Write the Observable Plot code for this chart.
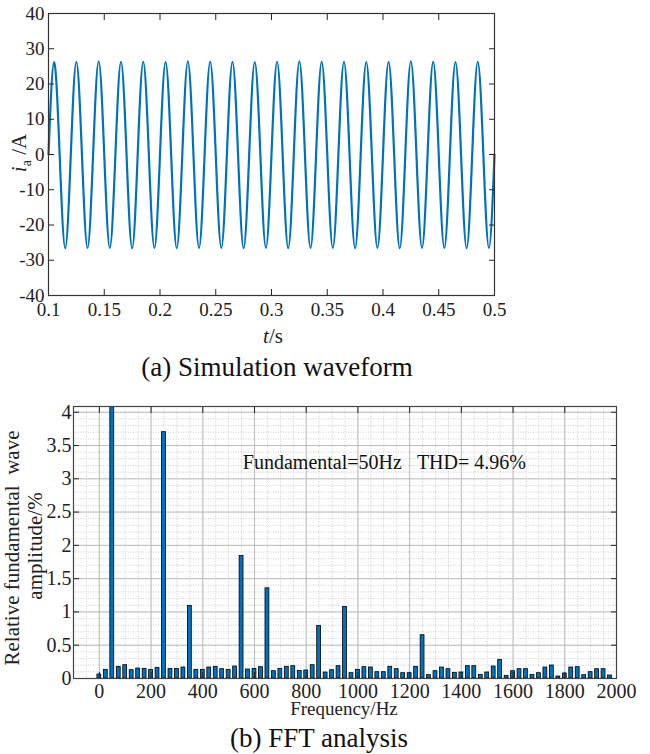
<!DOCTYPE html>
<html><head><meta charset="utf-8">
<script src="https://cdn.jsdelivr.net/npm/d3@7"></script>
<script src="https://cdn.jsdelivr.net/npm/@observablehq/plot@0.6"></script>
<style>
body{margin:0;background:#fff;font-family:"Liberation Serif","Times New Roman",serif;}
#wrap{position:relative;width:650px;height:754px;overflow:hidden;background:#fff;}
.plot{position:absolute;left:0;}
.plot text{font-family:"Liberation Serif","Times New Roman",serif;}
.cap{position:absolute;font-size:27px;white-space:nowrap;transform:translate(-50%,-50%);color:#111;}
</style></head><body><div id="wrap"></div>
<script>
// ---- (a) Simulation waveform ----
const waveStart = 0.1;          // s
const waveStep = 0.005;         // s between samples (quarter period)
const waveValues = [
  0, 26.2, 0, -26.6,  0, 26.3, 0, -26.5,  0, 26.4, 0, -26.5,  0, 26.3, 0, -26.6,
  0, 26.3, 0, -26.5,  0, 26.2, 0, -26.6,  0, 26.4, 0, -26.5,  0, 26.3, 0, -26.5,
  0, 26.3, 0, -26.6,  0, 26.2, 0, -26.5,  0, 26.3, 0, -26.6,  0, 26.4, 0, -26.5,
  0, 26.3, 0, -26.5,  0, 26.3, 0, -26.6,  0, 26.2, 0, -26.5,  0, 26.3, 0, -26.6,
  0, 26.4, 0, -26.5,  0, 26.3, 0, -26.5,  0, 26.2, 0, -26.6,  0, 26.3, 0, -26.5,
  0
];
const timeTicks = [0.1, 0.15, 0.2, 0.25, 0.3, 0.35, 0.4, 0.45, 0.5];
const currentTicks = [-40, -30, -20, -10, 0, 10, 20, 30, 40];
const captionA = "(a) Simulation waveform";

// ---- (b) FFT analysis ----
const fftStep = 25; // Hz between bars
const fftAmps = [
  0.06, 0.13, 100, 0.175, 0.2, 0.125, 0.15, 0.145, 0.13, 0.16,
  3.7, 0.145, 0.145, 0.165, 1.09, 0.13, 0.13, 0.165, 0.175, 0.14,
  0.13, 0.18, 1.84, 0.135, 0.145, 0.17, 1.355, 0.11, 0.145, 0.175,
  0.185, 0.115, 0.12, 0.2, 0.79, 0.09, 0.125, 0.185, 1.075, 0.08,
  0.13, 0.17, 0.165, 0.095, 0.095, 0.175, 0.14, 0.08, 0.08, 0.175,
  0.65, 0.05, 0.11, 0.165, 0.14, 0.085, 0.09, 0.185, 0.185, 0.055,
  0.09, 0.18, 0.28, 0.04, 0.11, 0.14, 0.14, 0.055, 0.08, 0.165,
  0.195, 0.03, 0.075, 0.165, 0.17, 0.05, 0.095, 0.14, 0.14, 0.045
];
const freqTicks = [0, 200, 400, 600, 800, 1000, 1200, 1400, 1600, 1800, 2000];
const ampTicks = [0, 0.5, 1, 1.5, 2, 2.5, 3, 3.5, 4];
const annotationText = "Fundamental=50Hz\u00a0\u00a0\u00a0THD=\u00a04.96%";
const annotationAt = {f: 555, a: 3.25};
const captionB = "(b) FFT analysis";

const FONT = "'Liberation Serif', 'Times New Roman', serif";
const INK = "#222";
const wrap = document.getElementById("wrap");

// ---------- top chart ----------
const wave = waveValues.map((v, i) => ({t: waveStart + i * waveStep, v}));
const topPlot = Plot.plot({
  width: 650, height: 350,
  marginTop: 13, marginBottom: 55, marginLeft: 48, marginRight: 156,
  style: `font-family: ${FONT}; font-size: 18px; color: ${INK}; background: transparent; overflow: visible;`,
  x: {domain: [0.1, 0.5]},
  y: {domain: [-40, 40]},
  marks: [
    Plot.line(wave, {x: "t", y: "v", stroke: "#0072BD", strokeWidth: 2.2, curve: "natural"}),
    Plot.axisX({ticks: timeTicks, anchor: "bottom", tickSize: -6, tickPadding: 13, tickFormat: d => String(d), label: null, fontSize: 19}),
    Plot.axisX({ticks: timeTicks, anchor: "top", tickSize: -6, tickFormat: () => "", label: null}),
    Plot.axisY({ticks: currentTicks, anchor: "left", tickSize: -6, tickPadding: 10, tickFormat: d => String(d), label: null, fontSize: 19}),
    Plot.axisY({ticks: currentTicks, anchor: "right", tickSize: -6, tickFormat: () => "", label: null}),
    Plot.frame({stroke: "#333", strokeWidth: 1.2})
  ]
});
topPlot.classList.add("plot");
topPlot.style.top = "0px";
wrap.appendChild(topPlot);
{
  const s = d3.select(topPlot);
  const yl = s.append("text").attr("transform", "translate(26,153) rotate(-90)")
    .attr("text-anchor", "middle").attr("fill", INK).style("font-size", "21px");
  yl.append("tspan").style("font-style", "italic").text("i");
  yl.append("tspan").attr("dy", 5).style("font-size", "14px").text("a");
  yl.append("tspan").attr("dy", -5).text(" /A");
  const xl = s.append("text").attr("x", 273).attr("y", 343)
    .attr("text-anchor", "middle").attr("fill", INK).style("font-size", "21px");
  xl.append("tspan").style("font-style", "italic").text("t");
  xl.append("tspan").text("/s");
}
const capA = document.createElement("div");
capA.className = "cap"; capA.textContent = captionA;
capA.style.left = "277px"; capA.style.top = "367px";
wrap.appendChild(capA);

// ---------- bottom chart ----------
const fft = fftAmps.map((a, i) => ({f: i * fftStep, a}));
const halfW = fftStep * 0.3;
const minorX = d3.range(-100, 2001, 50);
const minorY = d3.range(0, 41, 1).map(d => d / 10);
const bottomPlot = Plot.plot({
  width: 650, height: 330,
  marginTop: 16, marginBottom: 42, marginLeft: 73, marginRight: 34,
  style: `font-family: ${FONT}; font-size: 20px; color: ${INK}; background: transparent; overflow: visible;`,
  x: {domain: [-100, 2000]},
  y: {domain: [0, 4.086]},
  marks: [
    Plot.gridX(minorX, {stroke: "#b8b8b8", strokeOpacity: 1, strokeWidth: 0.7, strokeDasharray: "1,1.5"}),
    Plot.gridY(minorY, {stroke: "#b8b8b8", strokeOpacity: 1, strokeWidth: 0.7, strokeDasharray: "1,1.5"}),
    Plot.gridX(freqTicks, {stroke: "#bdbdbd", strokeOpacity: 1, strokeWidth: 1}),
    Plot.gridY(ampTicks, {stroke: "#bdbdbd", strokeOpacity: 1, strokeWidth: 1}),
    Plot.rect(fft, {x1: d => d.f - halfW, x2: d => d.f + halfW, y1: 0, y2: "a",
      fill: "#0072BD", stroke: "#000", strokeWidth: 0.8, clip: true}),
    Plot.text([annotationText], {x: annotationAt.f, y: annotationAt.a, textAnchor: "start", fontSize: 20, fill: "#111"}),
    Plot.axisX({ticks: freqTicks, anchor: "bottom", tickSize: -6, tickPadding: 11, tickFormat: d => String(d), label: null, fontSize: 20}),
    Plot.axisX({ticks: freqTicks, anchor: "top", tickSize: -6, tickFormat: () => "", label: null}),
    Plot.axisY({ticks: ampTicks, anchor: "left", tickSize: -6, tickPadding: 8, tickFormat: d => String(d), label: null, fontSize: 20}),
    Plot.axisY({ticks: ampTicks, anchor: "right", tickSize: -6, tickFormat: () => "", label: null}),
    Plot.frame({stroke: "#444", strokeWidth: 1.2})
  ]
});
bottomPlot.classList.add("plot");
bottomPlot.style.top = "390px";
wrap.appendChild(bottomPlot);
{
  const s = d3.select(bottomPlot);
  s.append("text").attr("x", 344).attr("y", 325).attr("text-anchor", "middle")
    .attr("fill", INK).style("font-size", "19px").text("Frequency/Hz");
  s.append("text").attr("transform", "translate(19,158) rotate(-90)").attr("text-anchor", "middle")
    .attr("fill", INK).style("font-size", "21px").text("Relative fundamental\u00a0 wave");
  s.append("text").attr("transform", "translate(42,156) rotate(-90)").attr("text-anchor", "middle")
    .attr("fill", INK).style("font-size", "21px").text("amplitude/%");
}
const capB = document.createElement("div");
capB.className = "cap"; capB.textContent = captionB;
capB.style.left = "319px"; capB.style.top = "738px";
wrap.appendChild(capB);
</script></body></html>
